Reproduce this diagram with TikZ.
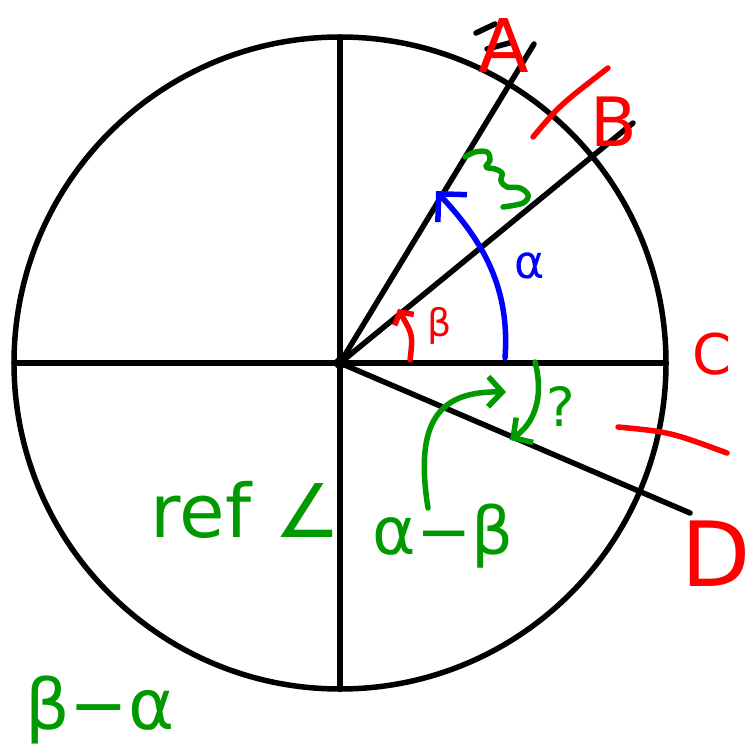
\documentclass[tikz,border=0pt]{standalone}
\usepackage{fontspec}
\setmainfont{DejaVu Sans}
\usepackage{tikz}
\usetikzlibrary{arrows.meta}

\begin{document}
\begin{tikzpicture}[
    x=1pt, y=-1pt,
    line cap=round, line join=round,
    axis/.style={line width=5.5pt, black},
    pen/.style={line width=5.5pt},
    >={Straight Barb[length=20pt,width=40pt]},
    redlabel/.style={text=red, inner sep=0pt, font=\fontsize{74}{76}\selectfont},
    greenlabel/.style={text=green!60!black, inner sep=0pt, font=\fontsize{74}{76}\selectfont}
]
\useasboundingbox (0,0) rectangle (754,749);

% circle and axes
\coordinate (O) at (340,363);
\draw[axis] (O) circle (326);
\draw[axis] (14,363) -- (666,363);
\draw[axis] (340,37) -- (340,689);

% rays
\coordinate (endA) at (534,44);
\coordinate (endB) at (633,123);
\coordinate (endD) at (690,513);
\draw[axis] (O) -- (endA);
\draw[axis] (O) -- (endB);
\draw[axis] (O) -- (endD);
\fill (O) circle (6);
\draw[axis] (476,33) -- (495,24);
\draw[axis] (487,49) -- (513,42);

% labels of the rays
\node[redlabel] (labA) at (504,46) {A};
\node[redlabel, font=\fontsize{68}{70}\selectfont] (labB) at (614,122) {B};
\node[redlabel, font=\fontsize{56}{58}\selectfont] (labC) at (712,354) {C};
\node[redlabel, font=\fontsize{90}{92}\selectfont] (labD) at (716,554) {D};
\draw[pen, red] (533,137) .. controls (560,105) .. (608,68);
\draw[pen, red] (618,427) .. controls (670,432) .. (727,453);

% angle beta
\coordinate (betaS) at (410,360);
\coordinate (betaE) at (398,309);
\draw[pen, red, ->, >={Straight Barb[length=9pt,width=22pt]}] (betaS) .. controls (413,335) .. (betaE);
\node[text=red, font=\fontsize{38}{40}\selectfont] (betaL) at (440,326) {β};

% angle alpha
\coordinate (alphaS) at (505,358);
\coordinate (alphaE) at (436,191);
\draw[pen, blue, ->] (alphaS) .. controls (510,290) and (485,243) .. (alphaE);
\node[text=blue, font=\fontsize{46}{48}\selectfont] (alphaL) at (530,266) {α};

% squiggle between A and B
\draw[pen, green!60!black] plot[smooth, tension=0.6] coordinates {
    (465,157) (475,152) (487,152) (490,160) (486,167) (495,169) (502,173)
    (501,181) (507,187) (520,188) (528,195) (523,203) (503,207)};

% angle below
\coordinate (qS) at (535,362);
\coordinate (qE) at (510,440);
\draw[pen, green!60!black, ->, >={Straight Barb[length=14pt,width=30pt]}] (qS) .. controls (545,400) and (532,425) .. (qE);
\node[text=green!60!black, font=\fontsize{54}{56}\selectfont] (quest) at (561,406) {?};

% differences
\node[greenlabel, font=\fontsize{66}{68}\selectfont] (diff) at (443,536) {α−β};
\coordinate (diffTop) at (428,508);
\coordinate (diffE) at (506,392);
\draw[pen, green!60!black, ->, >={Straight Barb[length=14pt,width=30pt]}] (diffTop) .. controls (414,420) and (440,391) .. (diffE);
\node[greenlabel] (refang) at (246,510) {ref ∠};
\node[greenlabel, font=\fontsize{70}{72}\selectfont] (rdiff) at (100,710) {β−α};

\end{tikzpicture}
\end{document}
